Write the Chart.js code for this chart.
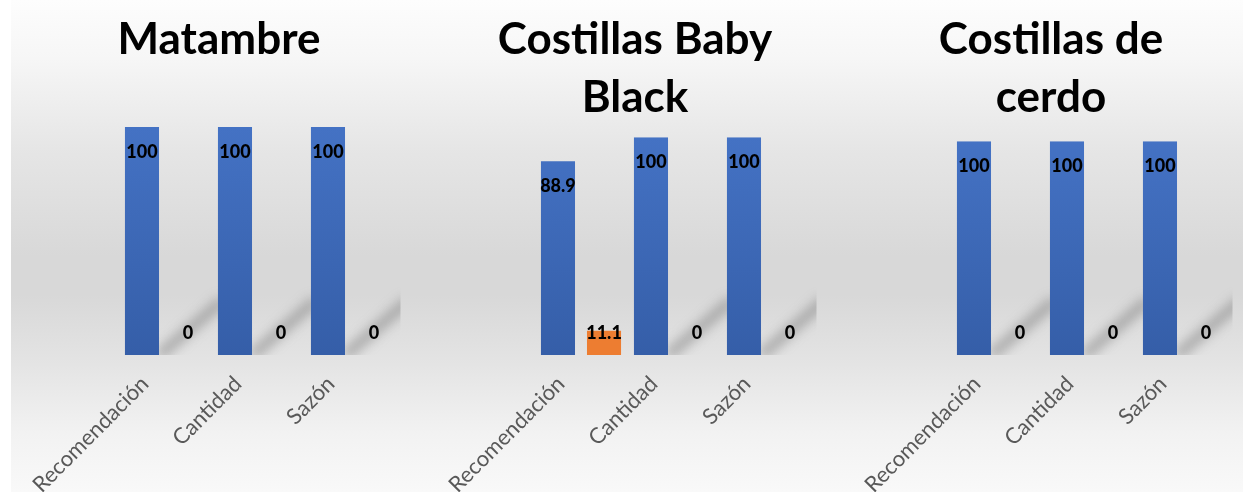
<!DOCTYPE html>
<html>
<head>
<meta charset="utf-8">
<script src="https://cdn.jsdelivr.net/npm/chart.js@4/dist/chart.umd.min.js"></script>
<style>
    html, body { margin: 0; padding: 0; overflow: hidden; background: #fff; }
    #bg {
        position: absolute; left: 11px; top: 0; width: 1232px; height: 492px;
        background: linear-gradient(to bottom, #fdfdfd 0%, #f6f6f6 12%, #e6e6e6 30%, #d8d8d8 52%, #d8d8d8 60%, #e4e4e4 74%, #f2f2f2 88%, #f9f9f9 100%);
    }
    .panel { position: absolute; top: 0; width: 416px; height: 540px; }
</style>
</head>
<body>
<div id="bg"></div>
<div class="panel" style="left:11px"><canvas id="c1" width="416" height="540"></canvas></div>
<div class="panel" style="left:427px"><canvas id="c2" width="416" height="540"></canvas></div>
<div class="panel" style="left:843px"><canvas id="c3" width="416" height="540"></canvas></div>
<script>
    var categories = ['Recomendación', 'Cantidad', 'Sazón'];
    var seriesNames = ['Sí', 'No'];

    var matambreSi = [100, 100, 100];
    var matambreNo = [0, 0, 0];
    var babySi = [88.9, 100, 100];
    var babyNo = [11.1, 0, 0];
    var cerdoSi = [100, 100, 100];
    var cerdoNo = [0, 0, 0];

    var titles = [['Matambre'], ['Costillas Baby', 'Black'], ['Costillas de', 'cerdo']];

    // soft diagonal shadow that Excel leaves under the empty (zero) bars
    var zeroShadows = {
        id: 'zeroShadows',
        beforeDatasetsDraw: function (chart) {
            var ctx = chart.ctx;
            var area = chart.chartArea;
            ctx.save();
            ctx.beginPath();
            ctx.rect(area.left, area.top, area.right - area.left + 3, area.bottom - area.top);
            ctx.clip();
            ctx.filter = 'blur(6px)';
            ctx.strokeStyle = 'rgba(105,105,105,0.5)';
            ctx.lineWidth = 10;
            ctx.lineCap = 'round';
            chart.data.datasets.forEach(function (ds, i) {
                chart.getDatasetMeta(i).data.forEach(function (bar, j) {
                    if (ds.data[j] !== 0) return;
                    ctx.beginPath();
                    ctx.moveTo(bar.x - 26, bar.base - 2);
                    ctx.lineTo(bar.x + 32, bar.base - 52);
                    ctx.stroke();
                });
            });
            ctx.restore();
        }
    };

    // value labels near the top of each bar (or just above the base for short ones)
    var valueLabels = {
        id: 'valueLabels',
        afterDatasetsDraw: function (chart) {
            var ctx = chart.ctx;
            ctx.save();
            ctx.font = '900 18px Lato';
            ctx.fillStyle = '#000';
            ctx.textAlign = 'center';
            ctx.textBaseline = 'middle';
            chart.data.datasets.forEach(function (ds, i) {
                chart.getDatasetMeta(i).data.forEach(function (bar, j) {
                    var y = Math.min(bar.y + 25, bar.base - 22);
                    ctx.fillText(String(ds.data[j]), bar.x, y);
                });
            });
            ctx.restore();
        }
    };

    function blueFill(context) {
        var area = context.chart.chartArea;
        if (!area) return '#4472c4';
        var g = context.chart.ctx.createLinearGradient(0, area.top, 0, area.bottom);
        g.addColorStop(0, '#4472c4');
        g.addColorStop(1, '#355ea8');
        return g;
    }

    function makeChart(id, title, si, no, titleGap) {
        new Chart(document.getElementById(id).getContext('2d'), {
            type: 'bar',
            data: {
                labels: categories,
                datasets: [
                    { label: seriesNames[0], data: si, backgroundColor: blueFill, yAxisID: 'y' },
                    { label: seriesNames[1], data: no, backgroundColor: '#ed7d31', yAxisID: 'y' }
                ]
            },
            options: {
                responsive: false,
                animation: false,
                categoryPercentage: 0.99,
                barPercentage: 0.74,
                layout: { padding: 0 },
                scales: {
                    x: {
                        grid: { display: false },
                        border: { display: false },
                        ticks: {
                            autoSkip: false,
                            minRotation: 45,
                            maxRotation: 45,
                            color: '#595959',
                            font: { family: 'Lato', size: 22 },
                            padding: 8,
                            labelOffset: -20
                        },
                        afterFit: function (scale) { scale.height = 185; }
                    },
                    y: {
                        min: 0, max: 100,
                        grid: { display: false },
                        border: { display: false },
                        ticks: { display: false },
                        afterFit: function (scale) { scale.width = 107.5; }
                    },
                    y2: {
                        position: 'right',
                        grid: { display: false },
                        border: { display: false },
                        ticks: { display: false },
                        afterFit: function (scale) { scale.width = 29.5; }
                    }
                },
                plugins: {
                    legend: { display: false },
                    tooltip: { enabled: false },
                    title: {
                        display: true,
                        text: title,
                        color: '#000',
                        font: { family: 'Lato', size: 44, weight: 'bold', lineHeight: 1.32 },
                        padding: { top: 11, bottom: titleGap }
                    }
                }
            },
            plugins: [zeroShadows, valueLabels]
        });
    }

    makeChart('c1', titles[0], matambreSi, matambreNo, 58);
    makeChart('c2', titles[1], babySi, babyNo, 10);
    makeChart('c3', titles[2], cerdoSi, cerdoNo, 14);
</script>
</body>
</html>
